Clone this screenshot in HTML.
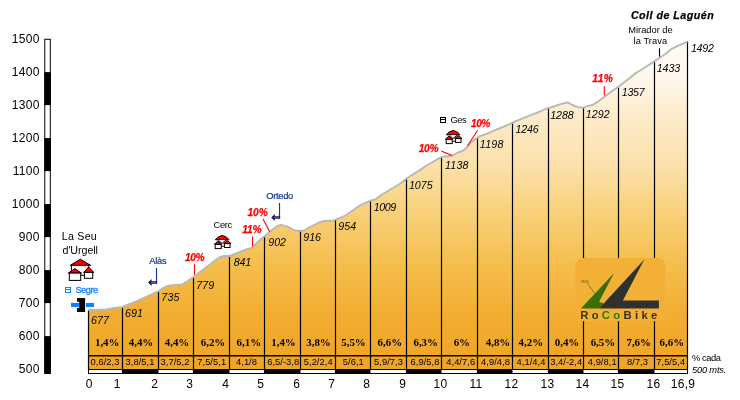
<!DOCTYPE html>
<html><head><meta charset="utf-8"><title>Coll de Lagu&eacute;n</title>
<style>
html,body{margin:0;padding:0;background:#fff;}
body{width:740px;height:400px;overflow:hidden;font-family:"Liberation Sans",sans-serif;}
svg{display:block;font-family:"Liberation Sans",sans-serif;}
.ax{font-size:12px;letter-spacing:.33px;fill:#000;}
.alt{font-size:10.67px;font-style:italic;fill:#000;letter-spacing:.07px;}
.pct{font-family:"Liberation Serif",serif;font-weight:bold;font-size:10.9px;fill:#000;text-anchor:middle;}
.sm{font-size:9.33px;fill:#000;text-anchor:middle;letter-spacing:.05px;}
.red{font-size:10.2px;font-weight:bold;font-style:italic;fill:#f00;}
.t9{font-size:8.8px;}
</style></head><body>
<svg width="740" height="400" viewBox="0 0 740 400">
<defs>
<linearGradient id="g" x1="0" y1="39" x2="0" y2="369" gradientUnits="userSpaceOnUse">
<stop offset="0" stop-color="#FFFCF6"/>
<stop offset="0.12" stop-color="#FFF7EB"/>
<stop offset="0.24" stop-color="#FDEBC8"/>
<stop offset="0.39" stop-color="#FBE0A8"/>
<stop offset="0.54" stop-color="#F8CF75"/>
<stop offset="0.69" stop-color="#F5BD4B"/>
<stop offset="0.85" stop-color="#F2AC2E"/>
<stop offset="1" stop-color="#F0A428"/>
</linearGradient>
<filter id="id" x="0" y="0" width="740" height="400" filterUnits="userSpaceOnUse" color-interpolation-filters="sRGB"><feOffset dx="0" dy="0"/></filter>
</defs>
<rect width="740" height="400" fill="#fff"/>
<g filter="url(#id)">

<polygon points="88.5,310.0 96.0,310.0 106.0,309.5 116.0,307.8 122.5,307.0 131.0,303.5 140.0,299.5 150.0,295.0 158.5,291.2 163.0,288.0 168.0,285.7 175.0,285.0 182.0,284.5 187.0,281.5 193.5,277.0 198.0,273.5 204.0,269.0 210.0,264.5 215.0,260.5 220.0,257.0 225.0,256.0 229.5,256.0 234.0,254.5 240.0,252.0 246.0,249.5 251.5,248.0 256.0,243.8 260.5,239.5 264.5,236.3 269.0,232.5 274.0,228.5 277.5,225.8 281.0,224.8 285.0,225.8 289.0,227.2 292.0,229.0 295.0,230.5 300.0,230.8 304.0,230.5 309.0,227.5 314.0,225.0 319.0,222.5 324.0,221.0 332.0,220.8 335.6,219.6 341.2,217.5 346.2,215.0 352.5,210.6 358.8,206.2 365.0,203.1 370.6,200.6 376.2,198.8 381.2,195.0 387.5,191.2 393.8,187.5 400.0,183.8 406.8,178.3 413.0,174.4 419.2,170.6 425.5,166.2 431.8,162.5 438.0,158.8 441.8,156.9 448.0,156.2 453.0,155.2 458.0,152.5 463.0,150.6 466.8,147.5 470.2,143.3 475.2,138.8 480.2,136.2 486.5,133.8 494.0,130.6 501.5,127.5 509.0,124.4 514.0,121.9 520.2,119.4 526.5,116.9 532.8,114.4 538.8,112.0 547.5,108.1 553.8,106.5 560.0,104.4 565.0,102.8 568.1,102.5 572.5,105.0 577.5,106.9 582.5,107.8 587.5,106.2 592.5,105.0 597.5,101.9 604.5,96.8 611.8,91.2 618.4,86.8 627.5,79.8 636.3,72.8 645.0,67.5 654.1,61.4 660.8,57.0 666.0,53.5 671.3,49.1 678.3,45.6 683.6,43.4 687.5,41.8 687.5,369.5 88.5,369.5" fill="url(#g)"/>
<path d="M88.5 310.5V369.5 M122.5 307.5V369.5 M158.5 291.7V369.5 M193.5 277.5V369.5 M229.5 256.5V369.5 M264.5 236.8V369.5 M300.5 231.3V369.5 M335.5 220.1V369.5 M370.5 201.1V369.5 M406.5 179.0V369.5 M441.5 157.5V369.5 M477.5 138.1V369.5 M512.5 123.2V369.5 M548.5 108.3V369.5 M583.5 108.0V369.5 M618.5 87.2V369.5 M654.5 61.6V369.5 M687.5 41.3V369.5" stroke="#000" stroke-width="1.2" fill="none"/>
<path d="M88 355.8H688" stroke="#000" stroke-width="1.4" fill="none"/>
<polyline points="88.5,310.0 96.0,310.0 106.0,309.5 116.0,307.8 122.5,307.0 131.0,303.5 140.0,299.5 150.0,295.0 158.5,291.2 163.0,288.0 168.0,285.7 175.0,285.0 182.0,284.5 187.0,281.5 193.5,277.0 198.0,273.5 204.0,269.0 210.0,264.5 215.0,260.5 220.0,257.0 225.0,256.0 229.5,256.0 234.0,254.5 240.0,252.0 246.0,249.5 251.5,248.0 256.0,243.8 260.5,239.5 264.5,236.3 269.0,232.5 274.0,228.5 277.5,225.8 281.0,224.8 285.0,225.8 289.0,227.2 292.0,229.0 295.0,230.5 300.0,230.8 304.0,230.5 309.0,227.5 314.0,225.0 319.0,222.5 324.0,221.0 332.0,220.8 335.6,219.6 341.2,217.5 346.2,215.0 352.5,210.6 358.8,206.2 365.0,203.1 370.6,200.6 376.2,198.8 381.2,195.0 387.5,191.2 393.8,187.5 400.0,183.8 406.8,178.3 413.0,174.4 419.2,170.6 425.5,166.2 431.8,162.5 438.0,158.8 441.8,156.9 448.0,156.2 453.0,155.2 458.0,152.5 463.0,150.6 466.8,147.5 470.2,143.3 475.2,138.8 480.2,136.2 486.5,133.8 494.0,130.6 501.5,127.5 509.0,124.4 514.0,121.9 520.2,119.4 526.5,116.9 532.8,114.4 538.8,112.0 547.5,108.1 553.8,106.5 560.0,104.4 565.0,102.8 568.1,102.5 572.5,105.0 577.5,106.9 582.5,107.8 587.5,106.2 592.5,105.0 597.5,101.9 604.5,96.8 611.8,91.2 618.4,86.8 627.5,79.8 636.3,72.8 645.0,67.5 654.1,61.4 660.8,57.0 666.0,53.5 671.3,49.1 678.3,45.6 683.6,43.4 687.5,41.8" fill="none" stroke="#b8b8b8" stroke-width="1.9" stroke-linejoin="round"/>
<rect x="88.5" y="369.5" width="599" height="4" fill="#fff" stroke="#000" stroke-width="1"/>
<rect x="121.9" y="369.5" width="36.6" height="4" fill="#000"/>
<rect x="192.9" y="369.5" width="36.6" height="4" fill="#000"/>
<rect x="263.9" y="369.5" width="36.6" height="4" fill="#000"/>
<rect x="334.9" y="369.5" width="35.6" height="4" fill="#000"/>
<rect x="405.9" y="369.5" width="35.6" height="4" fill="#000"/>
<rect x="476.9" y="369.5" width="35.6" height="4" fill="#000"/>
<rect x="547.9" y="369.5" width="35.6" height="4" fill="#000"/>
<rect x="617.9" y="369.5" width="36.6" height="4" fill="#000"/>
<rect x="44.8" y="39.3" width="5.5" height="334.2" fill="#fff" stroke="#000" stroke-width="1"/>
<rect x="44.3" y="72.1" width="6.5" height="33.0" fill="#000"/>
<rect x="44.3" y="138.1" width="6.5" height="33.0" fill="#000"/>
<rect x="44.3" y="204.1" width="6.5" height="33.0" fill="#000"/>
<rect x="44.3" y="270.1" width="6.5" height="33.0" fill="#000"/>
<rect x="44.3" y="336.1" width="6.5" height="37.4" fill="#000"/>
<text class="ax" x="39.8" y="42.5" text-anchor="end">1500</text>
<text class="ax" x="39.8" y="75.5" text-anchor="end">1400</text>
<text class="ax" x="39.8" y="108.5" text-anchor="end">1300</text>
<text class="ax" x="39.8" y="141.5" text-anchor="end">1200</text>
<text class="ax" x="39.8" y="174.5" text-anchor="end">1100</text>
<text class="ax" x="39.8" y="207.5" text-anchor="end">1000</text>
<text class="ax" x="39.8" y="240.5" text-anchor="end">900</text>
<text class="ax" x="39.8" y="273.5" text-anchor="end">800</text>
<text class="ax" x="39.8" y="306.5" text-anchor="end">700</text>
<text class="ax" x="39.8" y="339.5" text-anchor="end">600</text>
<text class="ax" x="39.8" y="372.5" text-anchor="end">500</text>
<text class="ax" x="85.7" y="387.8">0</text>
<text class="ax" x="113.7" y="387.8">1</text>
<text class="ax" x="151.2" y="387.8">2</text>
<text class="ax" x="186.2" y="387.8">3</text>
<text class="ax" x="222.2" y="387.8">4</text>
<text class="ax" x="257.2" y="387.8">5</text>
<text class="ax" x="293.2" y="387.8">6</text>
<text class="ax" x="328.2" y="387.8">7</text>
<text class="ax" x="363.2" y="387.8">8</text>
<text class="ax" x="399.2" y="387.8">9</text>
<text class="ax" x="433.5" y="387.8">10</text>
<text class="ax" x="469.5" y="387.8">11</text>
<text class="ax" x="504.5" y="387.8">12</text>
<text class="ax" x="540.5" y="387.8">13</text>
<text class="ax" x="575.5" y="387.8">14</text>
<text class="ax" x="610.5" y="387.8">15</text>
<text class="ax" x="646.5" y="387.8">16</text>
<text class="ax" x="670.7" y="387.8">16,9</text>
<text class="pct" x="107.20" y="346.2">1,4%</text>
<text class="sm" x="105.00" y="365.3">0,6/2,3</text>
<text class="pct" x="141.00" y="346.2">4,4%</text>
<text class="sm" x="140.00" y="365.3">3,8/5,1</text>
<text class="pct" x="177.00" y="346.2">4,4%</text>
<text class="sm" x="175.00" y="365.3">3,7/5,2</text>
<text class="pct" x="213.00" y="346.2">6,2%</text>
<text class="sm" x="211.70" y="365.3">7,5/5,1</text>
<text class="pct" x="248.80" y="346.2">6,1%</text>
<text class="sm" x="246.50" y="365.3">4,1/8</text>
<text class="pct" x="283.50" y="346.2">1,4%</text>
<text class="sm" x="283.20" y="365.3">6,5/-3,8</text>
<text class="pct" x="318.50" y="346.2">3,8%</text>
<text class="sm" x="318.20" y="365.3">5,2/2,4</text>
<text class="pct" x="353.50" y="346.2">5,5%</text>
<text class="sm" x="353.30" y="365.3">5/6,1</text>
<text class="pct" x="389.80" y="346.2">6,6%</text>
<text class="sm" x="388.50" y="365.3">5,9/7,3</text>
<text class="pct" x="425.70" y="346.2">6,3%</text>
<text class="sm" x="425.00" y="365.3">6,9/5,8</text>
<text class="pct" x="461.80" y="346.2">6%</text>
<text class="sm" x="460.70" y="365.3">4,4/7,6</text>
<text class="pct" x="498.00" y="346.2">4,8%</text>
<text class="sm" x="495.50" y="365.3">4,9/4,8</text>
<text class="pct" x="530.80" y="346.2">4,2%</text>
<text class="sm" x="531.00" y="365.3">4,1/4,4</text>
<text class="pct" x="567.00" y="346.2">0,4%</text>
<text class="sm" x="566.20" y="365.3">3,4/-2,4</text>
<text class="pct" x="602.90" y="346.2">6,5%</text>
<text class="sm" x="602.20" y="365.3">4,9/8,1</text>
<text class="pct" x="638.70" y="346.2">7,6%</text>
<text class="sm" x="637.50" y="365.3">8/7,3</text>
<text class="pct" x="671.80" y="346.2">6,6%</text>
<text class="sm" x="670.70" y="365.3">7,5/5,4</text>
<text x="91.0" y="323.8" style="font-size:10.67px;font-style:italic;letter-spacing:0.1px" fill="#000">677</text>
<text x="125.0" y="316.9" style="font-size:10.67px;font-style:italic;letter-spacing:0.1px" fill="#000">691</text>
<text x="161.25" y="300.7" style="font-size:10.67px;font-style:italic;letter-spacing:0.25px" fill="#000">735</text>
<text x="196.25" y="288.7" style="font-size:10.67px;font-style:italic;letter-spacing:0.125px" fill="#000">779</text>
<text x="233.75" y="266" style="font-size:10.67px;font-style:italic;letter-spacing:-0.125px" fill="#000">841</text>
<text x="268.2" y="245.5" style="font-size:10.67px;font-style:italic;letter-spacing:0.025px" fill="#000">902</text>
<text x="303.2" y="240.8" style="font-size:10.67px;font-style:italic;letter-spacing:0.025px" fill="#000">916</text>
<text x="338.2" y="229.7" style="font-size:10.67px;font-style:italic;letter-spacing:0.1px" fill="#000">954</text>
<text x="373.75" y="211" style="font-size:10.67px;font-style:italic;letter-spacing:-0.417px" fill="#000">1009</text>
<text x="408.95" y="188.6" style="font-size:10.67px;font-style:italic;letter-spacing:0.0px" fill="#000">1075</text>
<text x="445.05" y="168.7" style="font-size:10.67px;font-style:italic;letter-spacing:0.183px" fill="#000">1138</text>
<text x="479.85" y="147.6" style="font-size:10.67px;font-style:italic;letter-spacing:0.183px" fill="#000">1198</text>
<text x="515.55" y="132.9" style="font-size:10.67px;font-style:italic;letter-spacing:-0.167px" fill="#000">1246</text>
<text x="550.25" y="118.7" style="font-size:10.67px;font-style:italic;letter-spacing:-0.067px" fill="#000">1288</text>
<text x="585.75" y="117.6" style="font-size:10.67px;font-style:italic;letter-spacing:0.083px" fill="#000">1292</text>
<text x="621.75" y="95.5" style="font-size:10.67px;font-style:italic;letter-spacing:-0.25px" fill="#000">1357</text>
<text x="656.75" y="71.8" style="font-size:10.67px;font-style:italic;letter-spacing:-0.083px" fill="#000">1433</text>
<text x="690.95" y="52" style="font-size:10.67px;font-style:italic;letter-spacing:-0.25px" fill="#000">1492</text>
<text x="630.9" y="18.8" style="font-size:10.67px;font-weight:bold;font-style:italic;letter-spacing:0.492px" fill="#000" stroke="#000" stroke-width=".25">Coll de Lagu&eacute;n</text>
<text x="628.25" y="32.9" style="font-size:9.33px;letter-spacing:-0.011px" fill="#000">Mirador de</text>
<text x="633.55" y="43.6" style="font-size:9.33px;letter-spacing:0.057px" fill="#000">la Trava</text>
<path d="M659.5 48.3V56.6" stroke="#000" stroke-width="1.1"/>
<text x="184.95" y="260.7" style="font-size:10.2px;font-weight:bold;font-style:italic;letter-spacing:-0.375px" fill="#f00" stroke="#f00" stroke-width=".25">10%</text><path d="M194.5 264.3V274.8" stroke="#f00" stroke-width="1.1"/>
<text x="242.15" y="232.7" style="font-size:10.2px;font-weight:bold;font-style:italic;letter-spacing:-0.1px" fill="#f00" stroke="#f00" stroke-width=".25">11%</text><path d="M252.5 236.4V246.5" stroke="#f00" stroke-width="1.1"/>
<text x="247.55" y="215.9" style="font-size:10.2px;font-weight:bold;font-style:italic;letter-spacing:-0.125px" fill="#f00" stroke="#f00" stroke-width=".25">10%</text><path d="M263 218.9L269.7 231.7" stroke="#f00" stroke-width="1.1"/>
<text x="418.65" y="151.8" style="font-size:10.2px;font-weight:bold;font-style:italic;letter-spacing:-0.225px" fill="#f00" stroke="#f00" stroke-width=".25">10%</text><path d="M441.2 151L452 155.6" stroke="#f00" stroke-width="1.1"/>
<text x="471.05" y="126.7" style="font-size:10.2px;font-weight:bold;font-style:italic;letter-spacing:-0.525px" fill="#f00" stroke="#f00" stroke-width=".25">10%</text><path d="M477.6 130.3L467.5 145.8" stroke="#f00" stroke-width="1.1"/>
<text x="592.25" y="81.8" style="font-size:10.2px;font-weight:bold;font-style:italic;letter-spacing:0.5px" fill="#f00" stroke="#f00" stroke-width=".25">11%</text><path d="M604.3 86.2V95.5" stroke="#f00" stroke-width="1.1"/>
<text x="61.8" y="239.8" style="font-size:10.67px;letter-spacing:0.24px" fill="#000">La Seu</text>
<text x="62.5" y="253.8" style="font-size:10.67px;letter-spacing:-0.043px" fill="#000">d'Urgell</text>
<text x="213.5" y="227.6" style="font-size:9.33px;letter-spacing:-0.333px" fill="#000">Cerc</text>
<text x="149.2" y="263.7" style="font-size:9.33px;letter-spacing:-0.217px" fill="#123a92" stroke="#123a92" stroke-width=".2">Al&agrave;s</text>
<text x="266.2" y="198.9" style="font-size:9.33px;letter-spacing:-0.29px" fill="#123a92" stroke="#123a92" stroke-width=".2">Ortedo</text>
<text x="75.4" y="293" style="font-size:9.33px;letter-spacing:-0.5px" fill="#1286ff" stroke="#1286ff" stroke-width=".3">Segre</text>
<path d="M65.5 287h5v5h-5zM65.5 289.5h5" fill="none" stroke="#1286ff" stroke-width="1" shape-rendering="crispEdges"/>
<text x="450.5" y="122.5" style="font-size:9.33px;letter-spacing:-0.5px" fill="#000">Ges</text>
<path d="M440.5 117h5v5h-5zM440.5 119.5h5" fill="none" stroke="#000" stroke-width="1" shape-rendering="crispEdges"/>
<text x="692.05" y="360.8" style="font-size:9.33px;letter-spacing:-0.42px" fill="#000">% cada</text>
<text x="692.05" y="372.5" style="font-size:9.33px;font-style:italic;letter-spacing:-0.214px" fill="#000">500 mts.</text>
<path d="M156.5 268V283.5" fill="none" stroke="#1b3c9c" stroke-width="1.2"/><path d="M157.1 281.2H151.6V279.0L148 282.5L151.6 285.9V283.8H157.1Z" fill="#17174f"/><path d="M150.6 282.5H156.1" stroke="#5a48c8" stroke-width="1.1"/>
<path d="M279.5 203V218.5" fill="none" stroke="#1b3c9c" stroke-width="1.2"/><path d="M280.1 216.2H274.8V214.0L271.2 217.5L274.8 220.9V218.8H280.1Z" fill="#17174f"/><path d="M273.8 217.5H279.1" stroke="#5a48c8" stroke-width="1.1"/>
<path d="M77 298h8.1v13.9h-8.1v-3.9h2.2v-6.3h-2.2z" fill="#0c0408"/>
<rect x="71" y="302.9" width="8" height="4.1" fill="#0a84ff"/><rect x="85.9" y="302.9" width="8.1" height="4.1" fill="#0a84ff"/>
<g transform="translate(0,0)" stroke="#000" stroke-width="1" stroke-linejoin="miter"><path d="M215.3 239.8L217.8 237.2L222.2 235.4L226.6 237.2L229 239.8Z" fill="#f00"/><path d="M218.5 240.2L222 243.5L225.8 240.2" fill="#fff"/><path d="M214.2 244.4L218 241.2L221.8 244.4Z" fill="#f00"/><rect x="215.2" y="244.4" width="6" height="4.2" fill="#fff"/><path d="M223.6 243.6L227.3 240.4L231 243.6Z" fill="#f00"/><rect x="224.6" y="243.6" width="5.4" height="3.9" fill="#fff"/><path d="M221.2 246.2H224.6" fill="none"/></g>
<g transform="translate(231,-105)" stroke="#000" stroke-width="1" stroke-linejoin="miter"><path d="M215.3 239.8L217.8 237.2L222.2 235.4L226.6 237.2L229 239.8Z" fill="#f00"/><path d="M218.5 240.2L222 243.5L225.8 240.2" fill="#fff"/><path d="M214.2 244.4L218 241.2L221.8 244.4Z" fill="#f00"/><rect x="215.2" y="244.4" width="6" height="4.2" fill="#fff"/><path d="M223.6 243.6L227.3 240.4L231 243.6Z" fill="#f00"/><rect x="224.6" y="243.6" width="5.4" height="3.9" fill="#fff"/><path d="M221.2 246.2H224.6" fill="none"/></g>
<g stroke="#000" stroke-width="1">
<path d="M70.3 265.3L80.4 259.2L90.6 265.3Z" fill="#f00"/>
<path d="M71.4 265.3V271M88.8 265.3V268" fill="none"/>
<path d="M68.2 273.1L74.8 268.6L81.5 273.1Z" fill="#f00"/>
<rect x="69.3" y="273.1" width="11.4" height="7.3" fill="#fff"/>
<path d="M83.6 272.4L88.6 267.1L93.8 272.4Z" fill="#f00"/>
<rect x="84.4" y="272.4" width="8.3" height="5.9" fill="#fff"/>
<path d="M80.7 275.3H84.4" fill="none"/>
</g>
<rect x="575.3" y="258" width="90" height="63.3" rx="7.5" fill="#f2b136"/>
<path d="M580.9 308.6L614.1 273.1L599.1 301.8L603.8 303.4L599.1 308.6Z" fill="#3b6f05"/>
<path d="M644.3 259.5L622.9 300.5H658.9V308.6H599.1Z" fill="#30302e"/>
<path d="M587.6 283.6L594.9 293.8" stroke="#5e6b12" stroke-width=".7"/>
<text x="581.2" y="283" style="font-size:4px;letter-spacing:-.1px" fill="#4d4a12">95%</text>
<text x="580.2" y="318.8" style="font-size:11.3px;font-weight:bold;letter-spacing:3.3px" fill="#33322e">Ro<tspan fill="#2f7a00">Co</tspan>Bike</text>
</g></svg></body></html>
